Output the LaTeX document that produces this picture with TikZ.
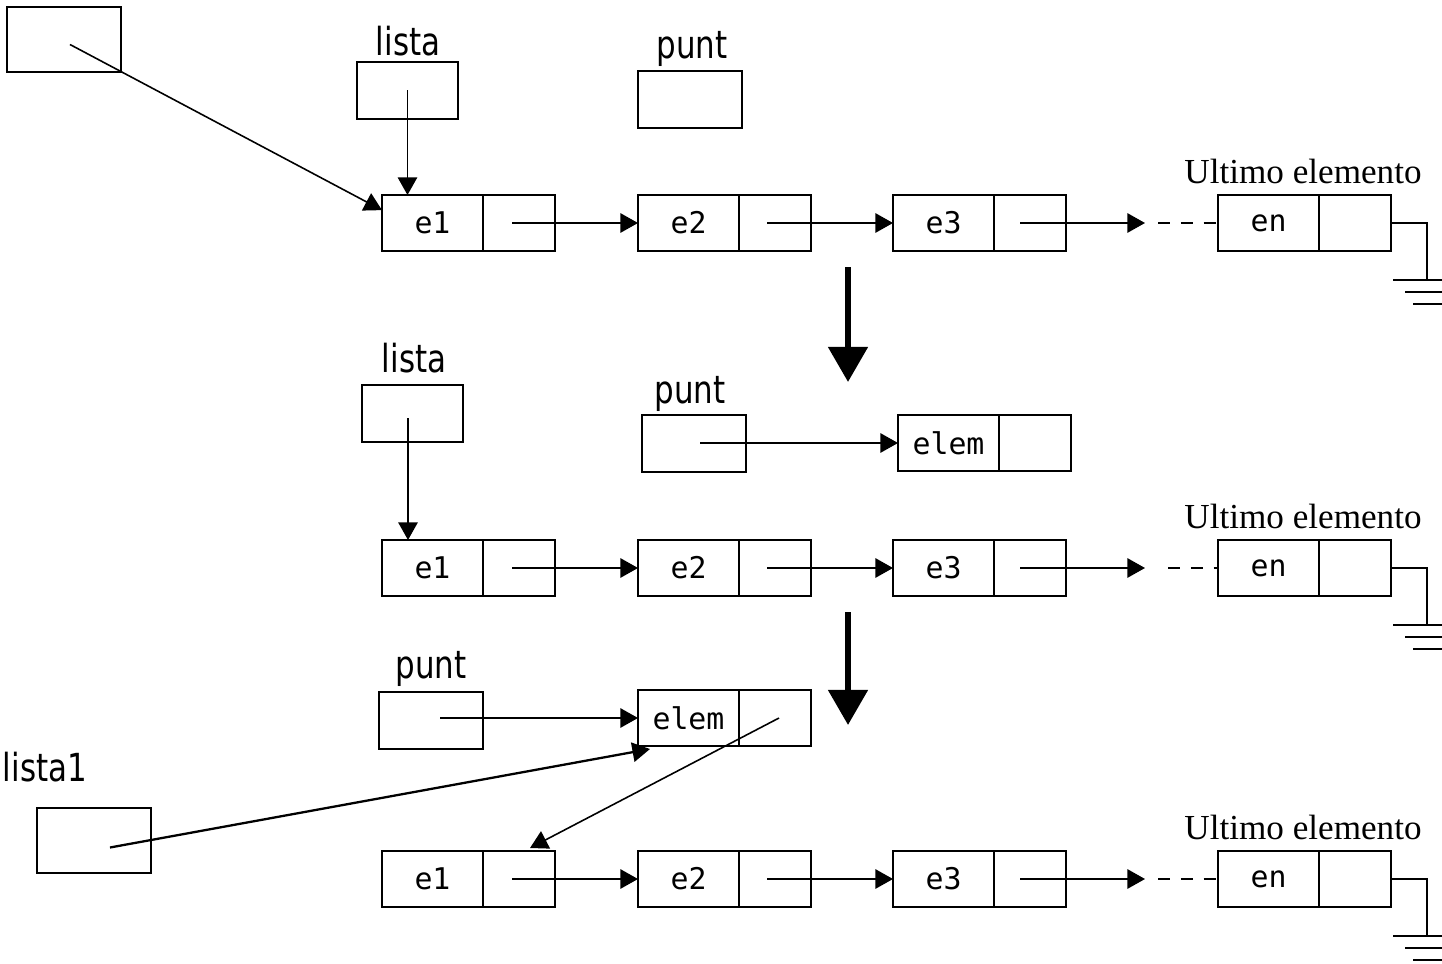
\documentclass[tikz,border=0pt]{standalone}
\usepackage{fontspec}
\setmainfont{Liberation Serif}
\newfontfamily\labfont[FakeStretch=0.8]{DejaVu Sans}
\newfontfamily\cellfont{DejaVu Sans Mono}
\usetikzlibrary{arrows.meta,calc}
\tikzset{
  box/.style={draw, line width=1.2pt, inner sep=0pt, outer sep=0pt},
  dcell/.style={box, minimum width=2.02cm, minimum height=1.12cm, anchor=north west, font=\cellfont\fontsize{17}{20}\selectfont},
  pcell/.style={box, minimum width=1.44cm, minimum height=1.12cm, anchor=north west},
  var/.style={box, minimum width=2.02cm, minimum height=1.14cm, anchor=north west},
  bigvar/.style={box, minimum width=2.28cm, minimum height=1.3cm, anchor=north west},
  lab/.style={font=\labfont\fontsize{22}{25}\selectfont, inner sep=0pt, anchor=base},
  ult/.style={font=\fontsize{20}{23}\selectfont, inner sep=0pt, anchor=base},
  ptr/.style={line width=0.9pt, -{Triangle[length=10pt,width=11pt]}},
  thickptr/.style={line width=1.3pt, -{Triangle[length=10pt,width=11pt]}},
  big/.style={line width=3.5pt, -{Triangle[length=20pt,width=22pt]}},
  gnd/.style={line width=0.9pt},
  dashline/.style={line width=0.9pt, dash pattern=on 7pt off 6pt},
}
% #1 prefix, #2 top y, #3 dashed start x
\newcommand\lrow[3]{%
  \node[dcell] (#1e1d) at (382,#2) {e1};
  \node[pcell] (#1e1p) at (483,#2) {};
  \node[dcell] (#1e2d) at (638,#2) {e2};
  \node[pcell] (#1e2p) at (739,#2) {};
  \node[dcell] (#1e3d) at (893,#2) {e3};
  \node[pcell] (#1e3p) at (994,#2) {};
  \node[dcell] (#1end) at (1218,#2) {en};
  \node[pcell] (#1enp) at (1319,#2) {};
  \node[ult] (#1ult) at (1303,#2-12) {Ultimo elemento};
  \draw[ptr] ($(#1e1p.center)+(-7,0)$) -- (#1e2d.west);
  \draw[ptr] ($(#1e2p.center)+(-8,0)$) -- (#1e3d.west);
  \coordinate (#1tx) at (1145,0);
  \coordinate (#1dx) at (#3,0);
  \coordinate (#1tip) at (#1e3p.center -| #1tx);
  \coordinate (#1ds) at (#1e3p.center -| #1dx);
  \draw[ptr] ($(#1e3p.center)+(-10,0)$) -- (#1tip);
  \draw[dashline] (#1ds) -- (#1end.west);
  \coordinate (#1g) at (1427,#2+85);
  \draw[gnd] (#1enp.east) -| (#1g);
  \draw[gnd] (1393,#2+85) -- (1442,#2+85);
  \draw[gnd] (1405,#2+97) -- (1442,#2+97);
  \draw[gnd] (1413,#2+109) -- (1442,#2+109);
}
\begin{document}
\begin{tikzpicture}[x=0.02cm,y=-0.02cm]
\useasboundingbox (0,0) rectangle (1442,963);

% ---------- stage 1 ----------
\node[bigvar] (top) at (7,7) {};
\node[var] (lista) at (357,62) {};
\node[lab] (listalab) at (408,56) {lista};
\node[var, minimum width=2.08cm] (punt) at (638,71) {};
\node[lab] (puntlab) at (692,59) {punt};
\lrow{a}{195}{1158}
\draw[ptr] ($(top.center)+(6,5)$) -- ($(ae1d.north west)!0.27!(ae1d.south west)$);
\draw[ptr] (lista.center) -- (lista.center |- ae1d.north);

\draw[big] (848,267) -- (848,382);

% ---------- stage 2 ----------
\node[var] (listab) at (362,385) {};
\node[lab] (listablab) at (414,372) {lista};
\node[var, minimum width=2.08cm] (puntb) at (642,415) {};
\node[lab] (puntblab) at (690,403) {punt};
\node[dcell] (elembd) at (898,415) {elem};
\node[pcell] (elembp) at (999,415) {};
\coordinate (puntbx) at (700,0);
\draw[ptr] (elembd.west -| puntbx) -- (elembd.west);
\lrow{b}{540}{1168}
\coordinate (listabstart) at (408,418);
\draw[ptr] (listabstart) -- (listabstart |- be1d.north);

\draw[big] (848,612) -- (848,725);

% ---------- stage 3 ----------
\node[var, minimum width=2.08cm] (puntc) at (379,692) {};
\node[lab] (puntclab) at (431,678) {punt};
\node[dcell] (elemcd) at (638,690) {elem};
\node[pcell] (elemcp) at (739,690) {};
\coordinate (puntcx) at (440,0);
\draw[ptr] (elemcd.west -| puntcx) -- (elemcd.west);
\node[bigvar] (listauno) at (37,808) {};
\node[lab] (listaunolab) at (45,781) {lista1};
\lrow{c}{851}{1158}
\draw[thickptr] ($(listauno.center)+(16,7)$) -- ($(elemcd.south west)+(12,3)$);
\draw[ptr] ($(elemcp.center)+(4,0)$) -- ($(ce1p.north)+(11,-3)$);
\end{tikzpicture}
\end{document}
